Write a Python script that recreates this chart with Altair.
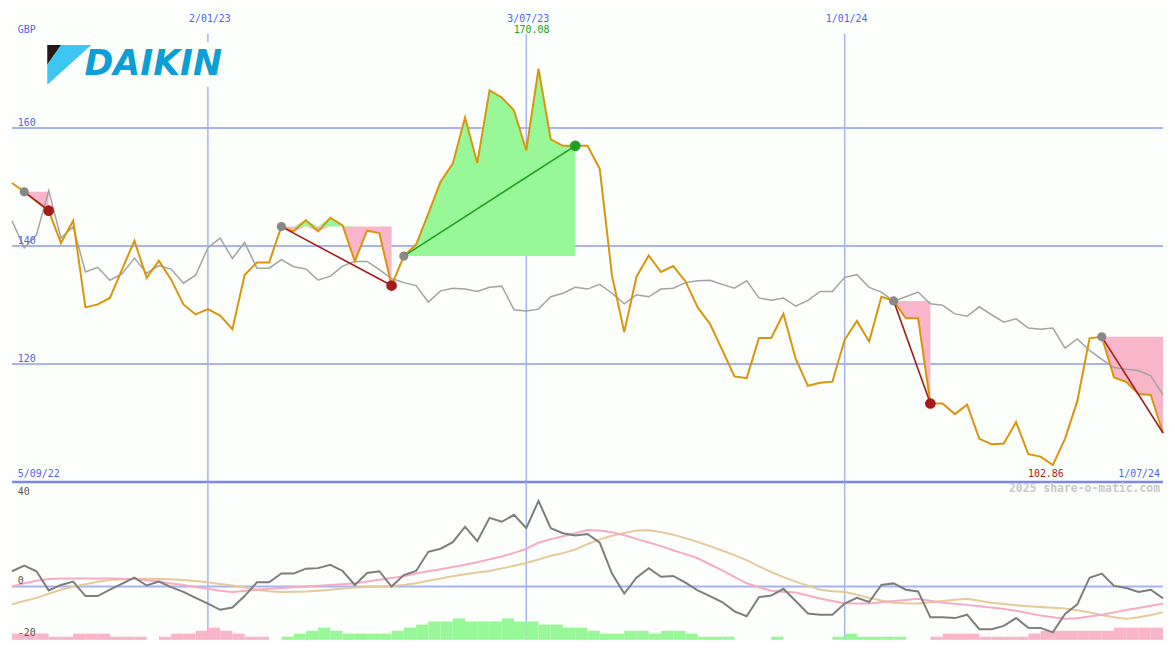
import altair as alt
import pandas as pd

# ---------------- data ----------------
first_week = "2022-09-12"

price = [150.7, 149.2, 147.6, 146.0, 140.5, 144.3, 129.6, 130.1, 131.2, 136.1,
         140.9, 134.6, 137.5, 134.3, 130.1, 128.4, 129.3, 128.2, 125.9, 135.1,
         137.2, 137.2, 143.3, 142.5, 144.4, 142.5, 144.8, 143.5, 137.4, 142.6,
         142.2, 133.3, 138.3, 140.25, 145.5, 150.9, 154.0, 161.8, 154.1, 166.4,
         165.2, 163.0, 156.2, 170.08, 158.1, 157.0, 157.0, 157.0, 153.1, 135.0,
         125.4, 134.8, 138.4, 135.6, 136.6, 134.0, 129.6, 126.8, 122.4, 117.9,
         117.6, 124.4, 124.4, 128.5, 120.9, 116.3, 116.8, 117.0, 124.1, 127.3,
         123.8, 131.4, 130.7, 127.75, 127.75, 113.3, 113.3, 111.5, 113.1, 107.3,
         106.4, 106.5, 110.15, 104.7, 104.3, 102.86, 107.35, 113.7, 124.35, 124.6,
         117.7, 116.95, 114.9, 114.75, 108.3]

relative = [144.3, 139.7, 141.9, 149.4, 141.35, 143.3, 135.6, 136.4, 134.2, 135.3,
            137.95, 135.4, 136.7, 136.1, 133.7, 135.05, 139.7, 141.35, 137.9, 140.6,
            136.25, 136.25, 137.7, 136.5, 136.1, 134.2, 134.9, 136.6, 137.4, 137.4,
            136.0, 134.5, 133.8, 133.3, 130.5, 132.4, 132.85, 132.7, 132.3, 133.0,
            133.2, 129.2, 129.0, 129.3, 131.4, 132.0, 133.0, 132.7, 133.5, 132.0,
            130.2, 131.75, 131.4, 132.7, 132.85, 133.8, 134.1, 134.2, 133.5, 132.85,
            134.1, 131.2, 130.8, 131.2, 129.8, 130.8, 132.3, 132.3, 134.7, 135.15,
            133.0, 132.2, 130.65, 131.4, 132.2, 130.2, 129.95, 128.5, 128.1, 129.7,
            128.35, 127.1, 127.65, 126.1, 125.9, 126.1, 122.7, 124.25, 122.3, 120.8,
            119.4, 119.1, 118.9, 118.0, 114.75]

momentum = [5.9, 8.1, 5.9, -1.5, 0.6, 1.9, -3.7, -3.7, -1.25, 1.1,
            3.4, 0.4, 1.9, -0.25, -2.1, -4.4, -6.6, -9.0, -8.1, -3.7,
            1.6, 1.6, 5.0, 5.0, 6.9, 7.1, 8.35, 6.0, 0.6, 5.2,
            5.9, 0.0, 4.4, 6.0, 13.4, 14.6, 17.1, 23.1, 17.5, 26.5,
            25.0, 27.7, 22.5, 33.1, 22.5, 20.6, 19.7, 20.3, 16.9, 5.0,
            -2.7, 3.4, 7.1, 3.75, 4.1, 1.5, -1.5, -3.75, -6.0, -9.6,
            -11.5, -4.1, -3.5, -0.9, -5.6, -10.4, -10.9, -10.9, -6.6, -4.4,
            -6.0, 0.6, 1.2, -1.25, -1.9, -11.9, -11.9, -12.2, -10.9, -16.5,
            -16.5, -15.2, -12.2, -15.9, -16.0, -17.7, -10.6, -6.9, 3.4, 5.0,
            0.25, -0.6, -2.1, -1.25, -4.6]

signal_fast = [0.0, 1.2, 2.2, 2.9, 3.1, 3.1, 3.1, 3.1, 3.1, 3.0,
               2.9, 2.4, 1.9, 1.2, 0.6, -0.2, -0.9, -1.6, -2.1, -1.7,
               -1.25, -0.9, -0.6, -0.3, 0.0, 0.3, 0.6, 0.9, 1.3, 1.9,
               2.6, 3.3, 4.0, 5.0, 5.9, 6.7, 7.5, 8.4, 9.4, 10.5,
               11.6, 13.0, 14.6, 16.9, 18.3, 19.4, 20.6, 21.8, 21.6, 21.0,
               19.8, 18.4, 17.0, 15.6, 14.0, 12.5, 10.9, 8.6, 6.25, 3.7,
               1.25, -0.3, -1.6, -2.0, -2.3, -3.5, -4.6, -5.6, -6.5, -6.6,
               -6.6, -6.1, -5.6, -5.2, -4.75, -5.5, -6.25, -6.7, -7.1, -7.6,
               -8.1, -8.7, -9.4, -10.3, -11.2, -11.9, -12.5, -12.3, -11.6, -10.9,
               -10.0, -9.1, -8.3, -7.4, -6.6]

signal_slow = [-6.9, -5.6, -4.4, -2.8, -1.25, -0.1, 0.9, 1.8, 2.5, 2.8,
               2.9, 2.95, 2.9, 2.8, 2.5, 2.1, 1.6, 1.0, 0.4, -0.4,
               -1.25, -1.8, -2.1, -2.0, -1.9, -1.6, -1.25, -0.8, -0.4, -0.2,
               0.0, 0.2, 0.6, 1.25, 2.2, 3.1, 4.0, 4.7, 5.4, 6.0,
               7.0, 8.0, 9.1, 10.4, 11.9, 12.9, 14.3, 16.4, 18.2, 19.6,
               20.7, 21.6, 21.7, 21.0, 20.0, 18.7, 17.2, 15.6, 13.9, 12.1,
               10.2, 7.8, 5.6, 3.6, 1.9, 0.3, -1.25, -1.8, -2.1, -3.2,
               -4.4, -5.4, -6.25, -6.5, -6.6, -6.1, -5.6, -5.1, -4.75, -5.5,
               -6.25, -6.8, -7.25, -7.6, -7.9, -8.2, -8.5, -9.2, -10.0, -11.0,
               -11.9, -12.5, -11.9, -11.0, -10.0]

# weekly histogram (negative = pink, positive = green), one per interval
hist = [-2.4, -2.4, -2.4, -1.2, -1.2, -2.4, -2.4, -2.4, -1.2, -1.2,
        -1.2, 0, -1.2, -2.4, -2.4, -3.5, -4.7, -3.5, -2.4, -1.2,
        -1.2, 0, 1.2, 2.4, 3.5, 4.7, 3.5, 2.4, 2.4, 2.4,
        2.4, 3.5, 4.7, 5.9, 7.1, 7.1, 8.3, 7.1, 7.1, 7.1,
        8.3, 7.1, 7.1, 5.9, 5.9, 4.7, 4.7, 3.5, 2.4, 2.4,
        3.5, 3.5, 2.4, 3.5, 3.5, 2.4, 1.2, 1.2, 1.2, 0,
        0, 0, 1.2, 0, 0, 0, 0, 1.2, 2.4, 1.2,
        1.2, 1.2, 1.2, 0, 0, -1.2, -2.4, -2.4, -2.4, -1.2,
        -1.2, -1.2, -1.2, -2.4, -3.5, -3.5, -3.5, -3.5, -3.5, -3.5,
        -4.7, -4.7, -4.7, -4.7]

seg_start = [1, 22, 32, 72, 89]
seg_end = [3, 31, 46, 75, 94]
seg_dir = ["down", "down", "up", "down", "down"]
seg_end_marker = [True, True, True, True, False]

grid_dates = ["2023-01-02", "2023-07-03", "2024-01-01"]
grid_labels = ["2/01/23", "3/07/23", "1/01/24"]
price_levels = [160, 140, 120]
price_level_labels = ["160", "140", "120"]
first_label, last_label = "5/09/22", "1/07/24"
currency = "GBP"
high_label, low_label = "170.08", "102.86"
high_idx, low_idx = 43, 85
osc_levels = [0, -20]
osc_level_labels = ["0", "-20"]
osc_top_label = "40"
watermark = "2025 share-o-matic.com"
brand = "DAIKIN"

# ---------------- layout / style ----------------
W, H1, H2 = 1159, 475, 159
SX, SY = W / 1175, (H1 + H2) / 650
BG = "#fcfffc"
GRID = "#a7b3f2"
BLUE_TXT = "#5263ee"
FONT = "DejaVu Sans Mono"
ORANGE = "#d9950b"
GRAYLINE = "#a3a3a3"
PINK = "#f9b5c9"
GREENFILL = "#98f898"
RED = "#a31c1c"
GREEN = "#22a022"
UP_LO, UP_HI = 100, 180
LO_LO, LO_HI = -20.6, 40.4

dates = pd.date_range(first_week, periods=len(price), freq="7D").strftime("%Y-%m-%d").tolist()
df = pd.DataFrame({"date": dates, "price": price, "rel": relative,
                   "mom": momentum, "fast": signal_fast, "slow": signal_slow})


def dt(s):
    y, m, d = map(int, s.split("-"))
    return alt.DateTime(year=y, month=m, date=d, utc=True)


xs = alt.Scale(type="utc", domain=[dt(dates[0]), dt(dates[-1])])
yU = alt.Scale(domain=[UP_LO, UP_HI], nice=False, zero=False)
yL = alt.Scale(domain=[LO_LO, LO_HI], nice=False, zero=False)


def X(f):
    return alt.X(f"{f}:T", scale=xs, axis=None)


def YU(f):
    return alt.Y(f"{f}:Q", scale=yU, axis=None)


def YL(f):
    return alt.Y(f"{f}:Q", scale=yL, axis=None)


one = pd.DataFrame({"a": [0]})

# ---------------- upper panel ----------------
hgrid = alt.Chart(pd.DataFrame({"v": price_levels, "t": price_level_labels})).mark_rule(
    color=GRID, strokeWidth=2).encode(y=YU("v"))
hgrid_txt = alt.Chart(pd.DataFrame({"v": price_levels, "t": price_level_labels})).mark_text(
    color=BLUE_TXT, font=FONT, fontSize=10, align="left", baseline="alphabetic", dy=-2).encode(
    x=alt.value(6 * SX), y=YU("v"), text="t:N")

vg_df = pd.DataFrame({"date": grid_dates, "label": grid_labels,
                      "top": [176] * len(grid_dates), "bot": [UP_LO] * len(grid_dates)})
vgrid = alt.Chart(vg_df).mark_rule(color=GRID, strokeWidth=1.5).encode(
    x=X("date"), y=YU("top"), y2="bot:Q")
vgrid_txt = alt.Chart(vg_df).mark_text(
    color=BLUE_TXT, font=FONT, fontSize=10, align="center", baseline="middle", dx=2).encode(
    x=X("date"), y=alt.value(9 * SY), text="label:N")

logo_bg = alt.Chart(one).mark_rect(color=BG).encode(
    x=alt.value(36 * SX), x2=alt.value(234 * SX), y=alt.value(33 * SY), y2=alt.value(79 * SY))

bottom_rule = alt.Chart(pd.DataFrame({"v": [UP_LO]})).mark_rule(
    color="#7b87f0", strokeWidth=2.5).encode(y=YU("v"))

rows = []
for s, (a, b) in enumerate(zip(seg_start, seg_end)):
    base = price[a]
    for k in range(a, b + 1):
        rows.append({"seg": s, "date": dates[k], "base": base,
                     "hi": max(price[k], base), "lo": min(price[k], base)})
fill_df = pd.DataFrame(rows)
green_fill = alt.Chart(fill_df).mark_area(color=GREENFILL, opacity=1).encode(
    x=X("date"), y=YU("hi"), y2="base:Q", detail="seg:N")
pink_fill = alt.Chart(fill_df).mark_area(color=PINK, opacity=1).encode(
    x=X("date"), y=YU("lo"), y2="base:Q", detail="seg:N")

rel_line = alt.Chart(df).mark_line(color=GRAYLINE, strokeWidth=1.5).encode(x=X("date"), y=YU("rel"))
price_line = alt.Chart(df).mark_line(color=ORANGE, strokeWidth=2).encode(x=X("date"), y=YU("price"))

tr = []
st = []
en = []
for s, (a, b, d, m) in enumerate(zip(seg_start, seg_end, seg_dir, seg_end_marker)):
    tr.append({"seg": s, "date": dates[a], "v": price[a], "dir": d})
    tr.append({"seg": s, "date": dates[b], "v": price[b], "dir": d})
    st.append({"date": dates[a], "v": price[a]})
    if m:
        en.append({"date": dates[b], "v": price[b], "dir": d})
tr_df = pd.DataFrame(tr)
en_df = pd.DataFrame(en)
trend_down = alt.Chart(tr_df[tr_df["dir"] == "down"]).mark_line(strokeWidth=1.6, color=RED).encode(
    x=X("date"), y=YU("v"), detail="seg:N")
trend_up = alt.Chart(tr_df[tr_df["dir"] == "up"]).mark_line(strokeWidth=1.6, color=GREEN).encode(
    x=X("date"), y=YU("v"), detail="seg:N")
start_dots = alt.Chart(pd.DataFrame(st)).mark_circle(size=85, color="#888888", opacity=1).encode(
    x=X("date"), y=YU("v"))
end_down = alt.Chart(en_df[en_df["dir"] == "down"]).mark_circle(size=115, opacity=1, color=RED).encode(
    x=X("date"), y=YU("v"))
end_up = alt.Chart(en_df[en_df["dir"] == "up"]).mark_circle(size=115, opacity=1, color=GREEN).encode(
    x=X("date"), y=YU("v"))

edge_df = pd.DataFrame({"date": [dates[0], dates[-1]], "t": [first_label, last_label], "v": [UP_LO, UP_LO]})
first_txt = alt.Chart(edge_df.iloc[[0]]).mark_text(
    color=BLUE_TXT, font=FONT, fontSize=10, align="left", baseline="alphabetic", dy=-4.5).encode(
    x=alt.value(6 * SX), y=YU("v"), text="t:N")
last_txt = alt.Chart(edge_df.iloc[[1]]).mark_text(
    color=BLUE_TXT, font=FONT, fontSize=10, align="right", baseline="alphabetic", dx=-3, dy=-4.5).encode(
    x=X("date"), y=YU("v"), text="t:N")
gbp_txt = alt.Chart(one).mark_text(
    color=BLUE_TXT, font=FONT, fontSize=10, align="left", baseline="middle", text=currency).encode(
    x=alt.value(6 * SX), y=alt.value(20 * SY))
hi_txt = alt.Chart(pd.DataFrame({"date": [dates[high_idx]], "t": [high_label]})).mark_text(
    color=GREEN, font=FONT, fontSize=10, align="center", baseline="middle", dx=-7).encode(
    x=X("date"), y=alt.value(20.7 * SY), text="t:N")
lo_txt = alt.Chart(pd.DataFrame({"date": [dates[low_idx]], "t": [low_label], "v": [UP_LO]})).mark_text(
    color=RED, font=FONT, fontSize=10, align="center", baseline="alphabetic", dx=-7, dy=-4.5).encode(
    x=X("date"), y=YU("v"), text="t:N")

# logo: emblem as custom symbol paths + brand text
cx, cy, r = 58.5, 56.5, 22.5


def path(pts):
    p = ["%s%.3f,%.3f" % ("M" if i == 0 else "L", (x - cx) / r, (y - cy) * SY / (r * SX))
         for i, (x, y) in enumerate(pts)]
    return " ".join(p) + " Z"


black_tri = path([(36, 36), (50, 36), (36, 56)])
blue_quad = path([(50, 36), (81, 36), (36, 77), (36, 56)])
sym_size = (2 * r * SX) ** 2
emb_black = alt.Chart(one).mark_point(shape=black_tri, size=sym_size, filled=True, opacity=1,
                                      color="#231815", strokeWidth=0).encode(
    x=alt.value(cx * SX), y=alt.value(cy * SY))
emb_blue = alt.Chart(one).mark_point(shape=blue_quad, size=sym_size, filled=True, opacity=1,
                                     color="#3ec6f2", strokeWidth=0).encode(
    x=alt.value(cx * SX), y=alt.value(cy * SY))
brand_txt = alt.Chart(one).mark_text(
    text=brand, font="DejaVu Sans", fontSize=35, fontWeight="bold", fontStyle="italic",
    color="#0b9fd6", align="left", baseline="alphabetic").encode(
    x=alt.value(74 * SX), y=alt.value(67 * SY))

upper = alt.layer(
    hgrid, vgrid, logo_bg, bottom_rule, pink_fill, green_fill, rel_line, price_line,
    trend_down, trend_up, start_dots, end_down, end_up, hgrid_txt, vgrid_txt, first_txt,
    last_txt, gbp_txt, hi_txt, lo_txt, emb_blue, emb_black, brand_txt
).properties(width=W, height=H1)

# ---------------- lower panel ----------------
vgrid_low = alt.Chart(pd.DataFrame({"date": grid_dates})).mark_rule(
    color=GRID, strokeWidth=1.5).encode(x=X("date"))
zero_rule = alt.Chart(pd.DataFrame({"v": [0]})).mark_rule(color=GRID, strokeWidth=2).encode(y=YL("v"))

hrows = []
for j, h in enumerate(hist):
    if h == 0:
        continue
    hrows.append({"date": dates[j], "date2": dates[j + 1], "base": LO_LO,
                  "top": LO_LO + abs(h), "sign": "pos" if h > 0 else "neg"})
h_df = pd.DataFrame(hrows)
hist_neg = alt.Chart(h_df[h_df["sign"] == "neg"]).mark_rect(color=PINK).encode(
    x=X("date"), x2="date2:T", y=YL("top"), y2="base:Q")
hist_pos = alt.Chart(h_df[h_df["sign"] == "pos"]).mark_rect(color=GREENFILL).encode(
    x=X("date"), x2="date2:T", y=YL("top"), y2="base:Q")

slow_line = alt.Chart(df).mark_line(color="#e6ca98", strokeWidth=2).encode(x=X("date"), y=YL("slow"))
fast_line = alt.Chart(df).mark_line(color="#f8abc4", strokeWidth=2).encode(x=X("date"), y=YL("fast"))
mom_line = alt.Chart(df).mark_line(color="#7d7d7d", strokeWidth=2).encode(x=X("date"), y=YL("mom"))

osc_txt = alt.Chart(pd.DataFrame({"v": osc_levels, "t": osc_level_labels})).mark_text(
    color="#555555", font=FONT, fontSize=10, align="left", baseline="alphabetic", dy=-2.7).encode(
    x=alt.value(6 * SX), y=YL("v"), text="t:N")
osc_top = alt.Chart(one).mark_text(
    color="#555555", font=FONT, fontSize=10, align="left", baseline="alphabetic", text=osc_top_label).encode(
    x=alt.value(6 * SX), y=alt.value(13.3 * SY))
wm_txt = alt.Chart(pd.DataFrame({"date": [dates[-1]], "t": [watermark]})).mark_text(
    color="#c8c8c8", font=FONT, fontSize=11.5, fontWeight="bold", align="right", baseline="middle", dx=-3).encode(
    x=X("date"), y=alt.value(7.7 * SY), text="t:N")

lower = alt.layer(
    vgrid_low, zero_rule, hist_neg, hist_pos, slow_line, fast_line, mom_line, osc_txt, osc_top, wm_txt
).properties(width=W, height=H2)

chart = alt.vconcat(upper, lower, spacing=0, bounds="flush").properties(
    background=BG, padding=0
).configure_view(stroke=None)

chart.save("out.html", embed_options={"renderer": "svg", "actions": False})
